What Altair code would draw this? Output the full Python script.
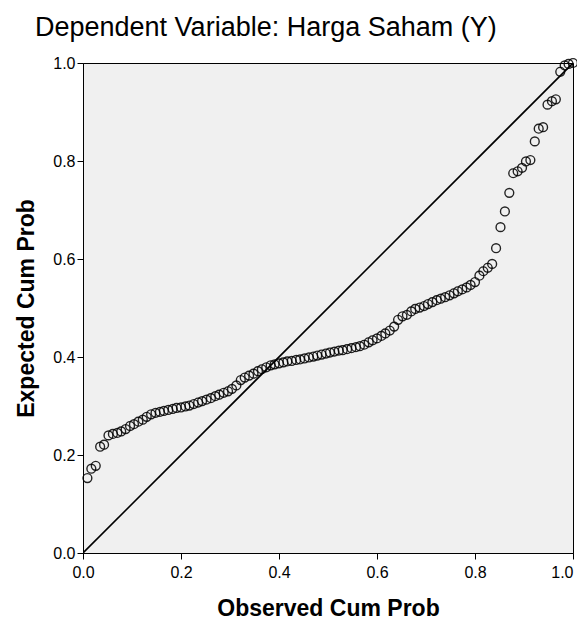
import altair as alt
import pandas as pd

observed = [0.009, 0.017, 0.026, 0.035, 0.043, 0.052, 0.061, 0.070, 0.078, 0.087,
            0.096, 0.104, 0.113, 0.122, 0.130, 0.139, 0.148, 0.157, 0.165, 0.174,
            0.183, 0.191, 0.200, 0.209, 0.217, 0.226, 0.235, 0.243, 0.252, 0.261,
            0.270, 0.278, 0.287, 0.296, 0.304, 0.313, 0.322, 0.330, 0.339, 0.348,
            0.357, 0.365, 0.374, 0.383, 0.391, 0.400, 0.409, 0.417, 0.426, 0.435,
            0.443, 0.452, 0.461, 0.470, 0.478, 0.487, 0.496, 0.504, 0.513, 0.522,
            0.530, 0.539, 0.548, 0.557, 0.565, 0.574, 0.583, 0.591, 0.600, 0.609,
            0.617, 0.626, 0.635, 0.643, 0.652, 0.661, 0.670, 0.678, 0.687, 0.696,
            0.704, 0.713, 0.722, 0.730, 0.739, 0.748, 0.757, 0.765, 0.774, 0.783,
            0.791, 0.800, 0.809, 0.817, 0.826, 0.835, 0.843, 0.852, 0.861, 0.870,
            0.878, 0.887, 0.896, 0.904, 0.913, 0.922, 0.930, 0.939, 0.948, 0.957,
            0.965, 0.974, 0.983, 0.991, 1.000]
expected = [0.153, 0.172, 0.178, 0.217, 0.221, 0.240, 0.243, 0.245, 0.248, 0.253,
            0.259, 0.263, 0.268, 0.272, 0.278, 0.283, 0.286, 0.288, 0.290, 0.292,
            0.294, 0.296, 0.297, 0.299, 0.301, 0.304, 0.307, 0.310, 0.313, 0.316,
            0.320, 0.323, 0.327, 0.330, 0.335, 0.342, 0.353, 0.358, 0.362, 0.366,
            0.371, 0.375, 0.379, 0.383, 0.385, 0.387, 0.389, 0.391, 0.392, 0.394,
            0.395, 0.397, 0.399, 0.401, 0.403, 0.405, 0.407, 0.409, 0.411, 0.413,
            0.414, 0.416, 0.418, 0.420, 0.422, 0.425, 0.430, 0.434, 0.438, 0.443,
            0.448, 0.454, 0.462, 0.476, 0.483, 0.486, 0.493, 0.498, 0.501, 0.504,
            0.508, 0.512, 0.516, 0.519, 0.522, 0.526, 0.530, 0.534, 0.538, 0.542,
            0.547, 0.553, 0.566, 0.575, 0.582, 0.590, 0.622, 0.665, 0.697, 0.735,
            0.775, 0.779, 0.786, 0.799, 0.802, 0.840, 0.866, 0.869, 0.915, 0.922,
            0.926, 0.982, 0.995, 0.998, 1.000]

diag_x = [0.0, 1.0]
diag_y = [0.0, 1.0]
tick_values = [0.0, 0.2, 0.4, 0.6, 0.8, 1.0]

pts = pd.DataFrame({"obs": observed, "exp": expected})
diag = pd.DataFrame({"obs": diag_x, "exp": diag_y})

FONT = "Liberation Sans"

xscale = alt.Scale(domain=[0, 1], nice=False, zero=False)
yscale = alt.Scale(domain=[0, 1], nice=False, zero=False)

xaxis = alt.Axis(title="Observed Cum Prob", values=tick_values, format=".1f",
                 tickSize=6, labelPadding=5, titlePadding=17, labelFlush=False,
                 labelAlign=alt.expr("datum.value == 1 ? 'right' : 'center'"))
yaxis = alt.Axis(title="Expected Cum Prob", values=tick_values, format=".1f",
                 tickSize=6, labelPadding=2, titlePadding=14, labelFlush=False)

line = alt.Chart(diag).mark_line(color="black", strokeWidth=1.6, clip=True).encode(
    x=alt.X("obs:Q", scale=xscale, axis=xaxis),
    y=alt.Y("exp:Q", scale=yscale, axis=yaxis),
)

points = alt.Chart(pts).mark_point(shape="circle", filled=False, color="black",
                                   size=78, strokeWidth=1.4, opacity=0.85).encode(
    x=alt.X("obs:Q", scale=xscale),
    y=alt.Y("exp:Q", scale=yscale),
)

chart = (line + points).properties(
    width=490,
    height=490,
    background="white",
    title=alt.TitleParams(
        "Dependent Variable: Harga Saham (Y)",
        anchor="start", frame="group", dx=-48, offset=13,
        font=FONT, fontSize=27, fontWeight="normal", color="black",
    ),
    autosize=alt.AutoSizeParams(type="none"),
    padding={"left": 75, "top": 55, "right": 4, "bottom": 66},
).configure_view(
    fill="#F0F0F0", stroke="black", strokeWidth=1
).configure_axis(
    grid=False, domainColor="black", tickColor="black", domainWidth=1, tickWidth=1,
    labelColor="black", labelFont=FONT, labelFontSize=16,
    titleColor="black", titleFont=FONT, titleFontSize=23, titleFontWeight="bold",
)

chart.save("out.html", embed_options={"renderer": "svg", "actions": False})
